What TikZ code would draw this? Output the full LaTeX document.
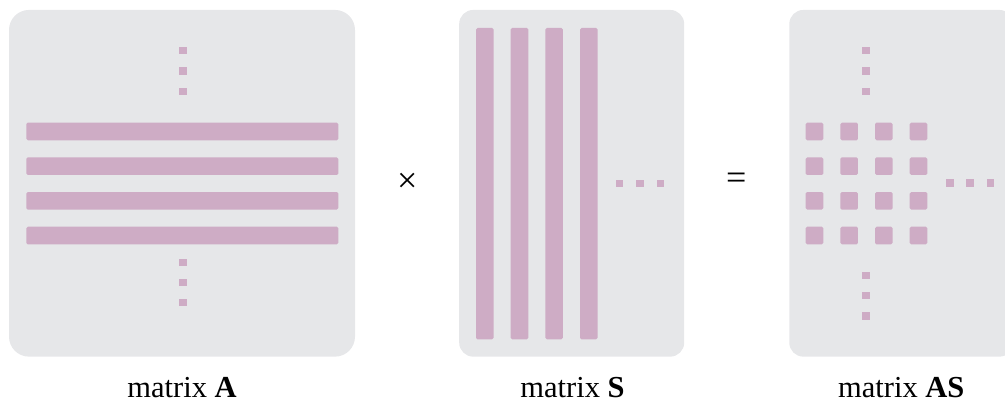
\documentclass[tikz,border=0pt]{standalone}
\usepackage{fontspec}
\setmainfont{Liberation Serif}
\definecolor{panelgray}{RGB}{230,231,233}
\definecolor{entrypink}{RGB}{206,172,197}
\tikzset{
  panel/.style={rectangle, fill=panelgray, inner sep=0pt, draw=none},
  entry/.style={fill=entrypink, rounded corners=1.5pt},
  dotmark/.style={fill=entrypink},
  caption/.style={anchor=base, inner sep=0pt, font=\fontsize{30.5}{35}\selectfont},
  opsign/.style={inner sep=0pt, font=\fontsize{36}{40}\selectfont}
}
\begin{document}
\begin{tikzpicture}[x=1pt, y=-1pt]
  \useasboundingbox (0,0) rectangle (1005,403);
  \clip (0,0) rectangle (1005,403);

  % panels
  \node[panel, minimum width=346pt, minimum height=346.7pt, rounded corners=20pt] (boxA) at (182,183.3) {};
  \node[panel, minimum width=225pt, minimum height=346.7pt, rounded corners=14pt] (boxS) at (571.7,183.3) {};
  \node[panel, minimum width=224pt, minimum height=346.7pt, rounded corners=14pt] (boxAS) at (901.3,183.3) {};

  % matrix A: four rows with vertical ellipses
  \foreach \k in {0,...,3}
    \fill[entry] (26.3,122.7+34.67*\k) rectangle (338.3,140.3+34.67*\k);
  \foreach \t in {47,67.3,87.6,258.7,279,299.2}
    \fill[dotmark] (179.3,\t) rectangle (186.8,\t+7.3);

  % matrix S: four columns with horizontal ellipsis
  \foreach \k in {0,...,3}
    \fill[entry] (476+34.67*\k,28) rectangle (493.6+34.67*\k,339.3);
  \foreach \l in {615.7,636.3,656.8}
    \fill[dotmark] (\l,180) rectangle (\l+7.5,187.3);

  % matrix AS: 4x4 block of products with ellipses
  \foreach \i in {0,...,3}
    \foreach \j in {0,...,3}
      \fill[entry] (805.7+34.67*\j,122.7+34.67*\i) rectangle (823.3+34.67*\j,140.3+34.67*\i);
  \foreach \t in {47,67.3,87.6,271.7,292,312.3}
    \fill[dotmark] (862.4,\t) rectangle (869.9,\t+7.3);
  \foreach \l in {946,966.3,986.7}
    \fill[dotmark] (\l,179.3) rectangle (\l+7.5,186.7);

  % operators
  \node[opsign] (times) at (407.3,182.5) {×};
  \node[opsign] (equals) at (736.3,181) {=};

  % captions
  \node[caption] (capA) at (182,398) {matrix \textbf{A}};
  \node[caption] (capS) at (572.5,398) {matrix \textbf{S}};
  \node[caption] (capAS) at (901.3,398) {matrix \textbf{AS}};
\end{tikzpicture}
\end{document}
